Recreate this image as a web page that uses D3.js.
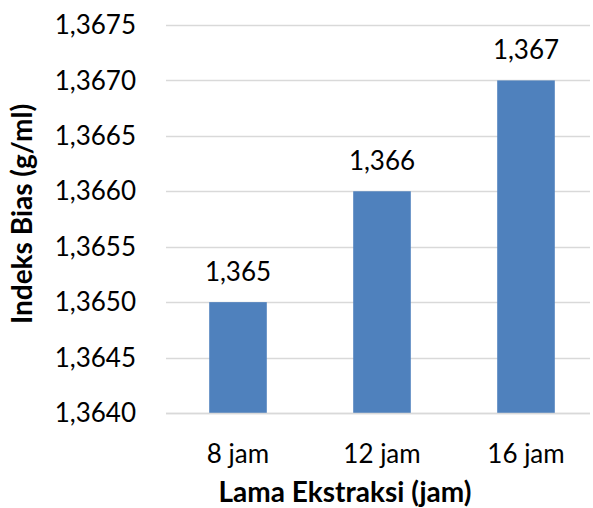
<!DOCTYPE html>
<html>
<head>
<meta charset="utf-8">
<script src="https://cdn.jsdelivr.net/npm/d3@7"></script>
<style>
  body { margin: 0; background: #fff; }
  svg { display: block; }
  text { font-family: Lato, "Open Sans", sans-serif; fill: #000; }
</style>
</head>
<body>
<svg id="chart" width="593" height="508"></svg>
<script>
// Refractive index by extraction time
const categories = ["8 jam", "12 jam", "16 jam"];
const values = [1.365, 1.366, 1.367];
const valueLabels = ["1,365", "1,366", "1,367"];
const yTicks = [1.3640, 1.3645, 1.3650, 1.3655, 1.3660, 1.3665, 1.3670, 1.3675];
const yTickLabels = ["1,3640", "1,3645", "1,3650", "1,3655", "1,3660", "1,3665", "1,3670", "1,3675"];

const svg = d3.select("#chart");
const plotLeft = 166, plotRight = 598, plotTop = 25, plotBottom = 413;

const x = d3.scaleBand()
  .domain(categories)
  .range([plotLeft, plotRight])
  .paddingInner(0.6)
  .paddingOuter(0.3);

const y = d3.scaleLinear()
  .domain([1.3640, 1.3675])
  .range([plotBottom, plotTop]);

// gridlines
svg.append("g")
  .selectAll("line")
  .data(yTicks)
  .join("line")
  .attr("x1", plotLeft)
  .attr("x2", 590)
  .attr("y1", d => Math.round(y(d)) + 0.5)
  .attr("y2", d => Math.round(y(d)) + 0.5)
  .attr("stroke", "#d9d9d9")
  .attr("stroke-width", 1.5);

// y tick labels
svg.append("g")
  .selectAll("text")
  .data(yTicks)
  .join("text")
  .attr("x", 136)
  .attr("y", d => y(d))
  .attr("dy", "0.35em")
  .attr("text-anchor", "end")
  .style("font-size", "26px")
  .text((d, i) => yTickLabels[i]);

// bars
svg.append("g")
  .selectAll("rect")
  .data(values)
  .join("rect")
  .attr("x", (d, i) => x(categories[i]))
  .attr("width", x.bandwidth())
  .attr("y", d => y(d))
  .attr("height", d => plotBottom - y(d))
  .attr("fill", "#4f81bd");

// baseline
svg.append("line")
  .attr("x1", plotLeft).attr("x2", 590)
  .attr("y1", plotBottom + 0.5).attr("y2", plotBottom + 0.5)
  .attr("stroke", "#d9d9d9")
  .attr("stroke-width", 1.5);

// value labels
svg.append("g")
  .selectAll("text")
  .data(values)
  .join("text")
  .attr("x", (d, i) => x(categories[i]) + x.bandwidth() / 2)
  .attr("y", d => y(d) - 21)
  .attr("text-anchor", "middle")
  .style("font-size", "26px")
  .text((d, i) => valueLabels[i]);

// category labels
svg.append("g")
  .selectAll("text")
  .data(categories)
  .join("text")
  .attr("x", d => x(d) + x.bandwidth() / 2)
  .attr("y", 463)
  .attr("text-anchor", "middle")
  .style("font-size", "26px")
  .text(d => d);

// axis titles
svg.append("text")
  .attr("x", 345)
  .attr("y", 502)
  .attr("text-anchor", "middle")
  .style("font-size", "28px")
  .style("font-weight", "bold")
  .text("Lama Ekstraksi (jam)");

svg.append("text")
  .attr("transform", "translate(32,214) rotate(-90)")
  .attr("text-anchor", "middle")
  .style("font-size", "28px")
  .style("font-weight", "bold")
  .text("Indeks Bias (g/ml)");
</script>
</body>
</html>
